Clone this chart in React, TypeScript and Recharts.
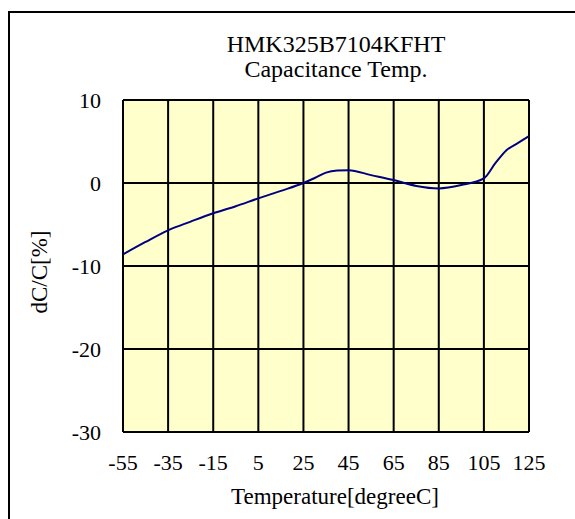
import React from 'react'
import { LineChart, Line, XAxis, YAxis, CartesianGrid } from 'recharts'

const temps = [-55, -45, -35, -25, -15, -5, 5, 15, 25, 30, 35, 40, 45, 55, 65, 75, 85, 95, 105, 110, 115, 120, 125]
const dcc = [-8.6, -7.1, -5.7, -4.65, -3.65, -2.8, -1.85, -0.95, 0, 0.6, 1.25, 1.5, 1.55, 0.95, 0.35, -0.35, -0.65, -0.25, 0.55, 2.35, 3.95, 4.8, 5.65]
const xTicks = [-55, -35, -15, 5, 25, 45, 65, 85, 105, 125]
const yTicks = [-30, -20, -10, 0, 10]
const titleLines = ['HMK325B7104KFHT', 'Capacitance Temp.']
const xTitle = 'Temperature[degreeC]'
const yTitle = 'dC/C[%]'

const data = temps.map((t, i) => ({ t, v: dcc[i] }))

const FONT = '"Liberation Serif", "Times New Roman", serif'
const tickStyle = { fill: '#000', fontSize: 22, fontFamily: FONT }

export default function App() {
  return (
    <div style={{ position: 'absolute', left: 0, top: 0, width: 575, height: 519, background: '#fff' }}>
      <div style={{ position: 'absolute', left: 8, top: 11, right: 0, bottom: 0, borderTop: '2px solid #000', borderLeft: '2px solid #000' }} />
      <LineChart width={575} height={519} data={data} margin={{ top: 100, right: 46, bottom: 57, left: 0 }} style={{ position: 'absolute', left: 0, top: 0 }}>
        <CartesianGrid fill="#FFFFCC" fillOpacity={1} stroke="#000" strokeWidth={2} strokeOpacity={1} />
        <XAxis
          dataKey="t"
          type="number"
          domain={[-55, 125]}
          ticks={xTicks}
          interval={0}
          height={30}
          axisLine={false}
          tickLine={false}
          tickSize={0}
          tickMargin={22}
          tick={tickStyle}
        />
        <YAxis
          type="number"
          domain={[-30, 10]}
          ticks={yTicks}
          interval={0}
          width={123}
          axisLine={false}
          tickLine={false}
          tickSize={0}
          tickMargin={22}
          tick={tickStyle}
        />
        <Line type="monotone" dataKey="v" stroke="#000080" strokeWidth={2} dot={false} isAnimationActive={false} />
        <text x={336} y={52} textAnchor="middle" fontSize={24} fontFamily={FONT} fill="#000">{titleLines[0]}</text>
        <text x={336} y={77} textAnchor="middle" fontSize={24} fontFamily={FONT} fill="#000">{titleLines[1]}</text>
        <text x={335} y={504} textAnchor="middle" fontSize={23} fontFamily={FONT} fill="#000">{xTitle}</text>
        <text x={47} y={272} textAnchor="middle" fontSize={23} fontFamily={FONT} fill="#000" transform="rotate(-90 47 272)">{yTitle}</text>
      </LineChart>
    </div>
  )
}
